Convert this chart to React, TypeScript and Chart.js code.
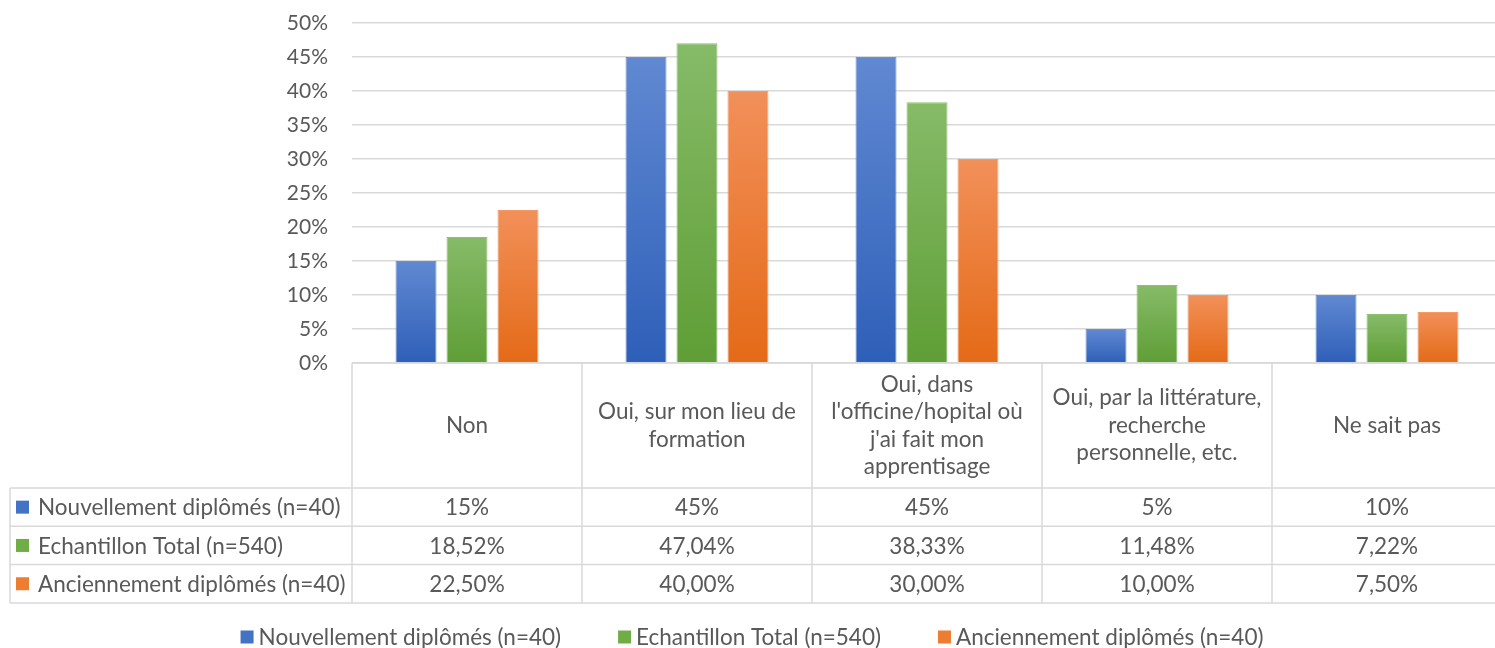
import React, { useEffect, useRef } from "react";
import { Chart, registerables } from "chart.js";

Chart.register(...registerables);

const categories: string[][] = [
  ["Non"],
  ["Oui, sur mon lieu de", "formation"],
  ["Oui, dans", "l'officine/hopital où", "j'ai fait mon", "apprentisage"],
  ["Oui, par la littérature,", "recherche", "personnelle, etc."],
  ["Ne sait pas"],
];

const seriesNames = [
  "Nouvellement diplômés (n=40)",
  "Echantillon Total (n=540)",
  "Anciennement diplômés (n=40)",
];

const nouvellement = [15, 45, 45, 5, 10];
const echantillon = [18.52, 47.04, 38.33, 11.48, 7.22];
const anciennement = [22.5, 40, 30, 10, 7.5];

const nouvellementLabels = ["15%", "45%", "45%", "5%", "10%"];
const echantillonLabels = ["18,52%", "47,04%", "38,33%", "11,48%", "7,22%"];
const anciennementLabels = ["22,50%", "40,00%", "30,00%", "10,00%", "7,50%"];

const yTickValues = [0, 5, 10, 15, 20, 25, 30, 35, 40, 45, 50];
const yTickLabels = ["0%", "5%", "10%", "15%", "20%", "25%", "30%", "35%", "40%", "45%", "50%"];

const FONT = "Lato, 'Open Sans', sans-serif";
const TICK_SIZE = 21;
const TABLE_SIZE = 22.5;
const TEXT_COLOR = "#595959";
const GRID_COLOR = "#d9d9d9";

const seriesColors = [
  { top: "#6189d2", bottom: "#2e5fb8", solid: "#4472c4", border: "#6a8fd6" },
  { top: "#86bb68", bottom: "#5f9e36", solid: "#70ad47", border: "#8cbf70" },
  { top: "#f2905a", bottom: "#e46a17", solid: "#ed7d31", border: "#f39a66" },
];

const CANVAS_W = 1505;
const CANVAS_H = 648;
const PLOT_LEFT = 352;
const PLOT_TOP = 23;
const PLOT_BOTTOM = 363;
const HEADER_H = 125;
const ROW_H = 38.3;
const TABLE_LEFT = 10;

function gradientFor(idx: number) {
  return (ctx: any) => {
    const chart = ctx.chart;
    const y = chart.scales?.y;
    if (!chart.chartArea || !y || ctx.type !== "data") return seriesColors[idx].solid;
    const v = ctx.raw as number;
    const top = y.getPixelForValue(v);
    const bottom = y.getPixelForValue(0);
    if (!isFinite(top) || !isFinite(bottom) || top === bottom) return seriesColors[idx].solid;
    const g = chart.ctx.createLinearGradient(0, top, 0, bottom);
    g.addColorStop(0, seriesColors[idx].top);
    g.addColorStop(1, seriesColors[idx].bottom);
    return g;
  };
}

const tablePlugin = {
  id: "dataTable",
  afterDraw(chart: any) {
    const { ctx, chartArea } = chart;
    const x = chart.scales.x;
    const n = categories.length;
    const colW = (chartArea.right - chartArea.left) / n;
    const rowsTop = chartArea.bottom + HEADER_H;
    const rowLabels = [nouvellementLabels, echantillonLabels, anciennementLabels];
    const tableBottom = rowsTop + ROW_H * 3;

    ctx.save();
    ctx.strokeStyle = GRID_COLOR;
    ctx.lineWidth = 1.5;
    ctx.beginPath();
    ctx.moveTo(chartArea.left, chartArea.bottom);
    ctx.lineTo(chartArea.right, chartArea.bottom);
    for (let r = 0; r <= 3; r++) {
      const yy = rowsTop + ROW_H * r;
      ctx.moveTo(TABLE_LEFT, yy);
      ctx.lineTo(chartArea.right, yy);
    }
    ctx.moveTo(TABLE_LEFT, rowsTop);
    ctx.lineTo(TABLE_LEFT, tableBottom);
    for (let i = 0; i <= n; i++) {
      const xx = chartArea.left + colW * i;
      ctx.moveTo(xx, chartArea.bottom);
      ctx.lineTo(xx, tableBottom);
    }
    ctx.stroke();

    ctx.fillStyle = TEXT_COLOR;
    ctx.font = `${TABLE_SIZE}px ${FONT}`;
    ctx.textAlign = "center";
    ctx.textBaseline = "middle";
    const lineH = 27.5;
    const headerMid = chartArea.bottom + HEADER_H / 2;
    categories.forEach((lines, i) => {
      const cx = x.getPixelForValue(i);
      const start = headerMid - ((lines.length - 1) * lineH) / 2;
      lines.forEach((ln, k) => ctx.fillText(ln, cx, start + k * lineH));
      rowLabels.forEach((row, r) => {
        ctx.fillText(row[i], cx, rowsTop + ROW_H * r + ROW_H / 2 + 1);
      });
    });

    ctx.textAlign = "left";
    seriesNames.forEach((name, r) => {
      const cy = rowsTop + ROW_H * r + ROW_H / 2;
      ctx.fillStyle = seriesColors[r].solid;
      ctx.fillRect(16, cy - 6.5, 13, 13);
      ctx.fillStyle = TEXT_COLOR;
      ctx.fillText(name, 38, cy + 1);
    });

    // legend
    const legendY = 637;
    const box = 13;
    const boxGap = 5;
    const itemGap = 57;
    const widths = seriesNames.map((s) => ctx.measureText(s).width);
    const total = widths.reduce((a, w) => a + box + boxGap + w, 0) + itemGap * (seriesNames.length - 1);
    let lx = 752 - total / 2;
    seriesNames.forEach((name, r) => {
      ctx.fillStyle = seriesColors[r].solid;
      ctx.fillRect(lx, legendY - 6.5, box, box);
      lx += box + boxGap;
      ctx.fillStyle = TEXT_COLOR;
      ctx.fillText(name, lx, legendY + 1);
      lx += widths[r] + itemGap;
    });
    ctx.restore();
  },
};

export default function App() {
  const ref = useRef<HTMLCanvasElement | null>(null);

  useEffect(() => {
    if (!ref.current) return;
    const seriesData = [nouvellement, echantillon, anciennement];
    const chart = new Chart(ref.current, {
      type: "bar",
      data: {
        labels: categories,
        datasets: seriesData.map((d, i) => ({
          label: seriesNames[i],
          data: d,
          backgroundColor: gradientFor(i),
          borderColor: seriesColors[i].border,
          borderWidth: 1,
          categoryPercentage: 0.665,
          barPercentage: 0.804,
        })),
      },
      options: {
        animation: false,
        responsive: false,
        maintainAspectRatio: false,
        layout: {
          padding: { left: 0, right: CANVAS_W - 1502, top: PLOT_TOP, bottom: CANVAS_H - PLOT_BOTTOM },
        },
        plugins: {
          legend: { display: false },
          tooltip: { enabled: false },
        },
        scales: {
          x: {
            display: false,
          },
          y: {
            min: 0,
            max: 50,
            afterFit: (axis: any) => {
              axis.width = PLOT_LEFT;
              axis.paddingTop = 0;
              axis.paddingBottom = 0;
            },
            afterBuildTicks: (axis: any) => {
              axis.ticks = yTickValues.map((v) => ({ value: v }));
            },
            border: { display: false },
            grid: { color: GRID_COLOR, lineWidth: 1.5, drawTicks: false },
            ticks: {
              padding: 24,
              color: TEXT_COLOR,
              font: { family: FONT, size: TICK_SIZE },
              callback: (_v: any, i: number) => yTickLabels[i],
            },
          },
        },
      },
      plugins: [tablePlugin],
    });
    return () => chart.destroy();
  }, []);

  return (
    <div
      style={{
        position: "absolute",
        left: 0,
        top: 0,
        width: 1495,
        height: CANVAS_H,
        overflow: "hidden",
        background: "#ffffff",
      }}
    >
      <canvas ref={ref} width={CANVAS_W} height={CANVAS_H} style={{ width: CANVAS_W, height: CANVAS_H, display: "block" }} />
    </div>
  );
}
